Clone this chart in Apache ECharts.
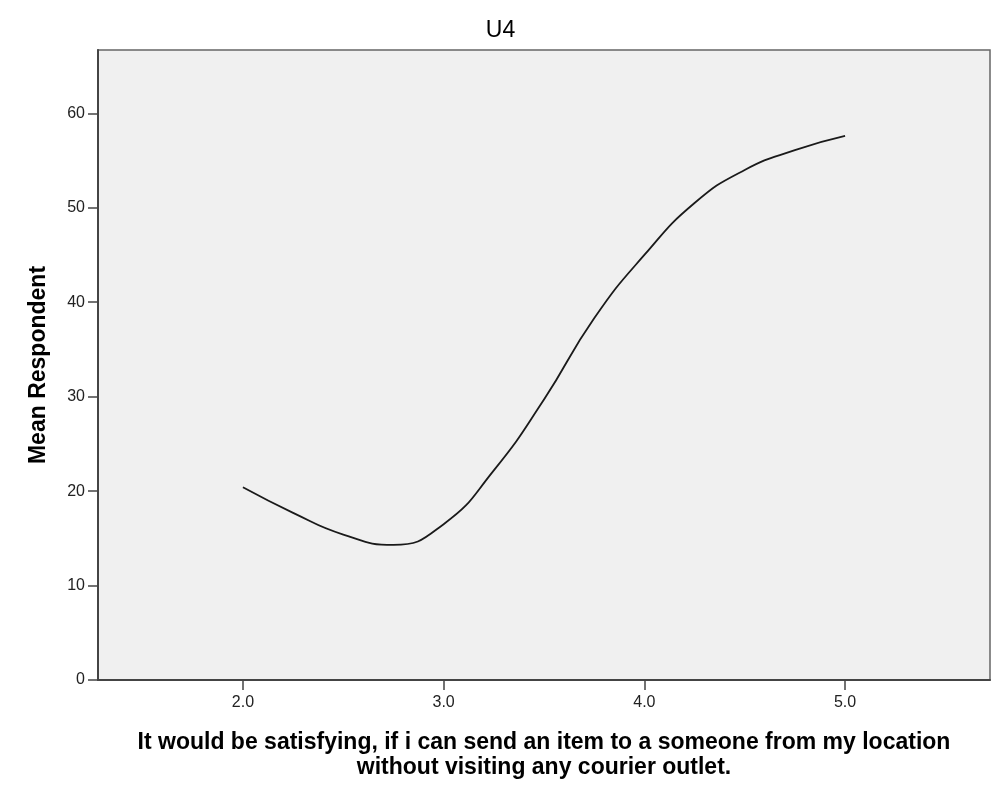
<!DOCTYPE html>
<html>
<head>
<meta charset="utf-8">
<title>U4</title>
<script src="https://cdn.jsdelivr.net/npm/echarts@6/dist/echarts.min.js"></script>
<style>
  html, body { margin: 0; padding: 0; background: #fff; }
  #main { width: 1001px; height: 790px; }
</style>
</head>
<body>
<div id="main"></div>
<script>
// values
var xValues = [2.0, 2.25, 2.5, 2.75, 3.0, 3.25, 3.5, 3.75, 4.0, 4.25, 4.5, 4.75, 5.0];
var meanValues = [20.4, 17.7, 15.4, 14.3, 16.5, 22.2, 29.7, 38.3, 45.0, 50.5, 54.0, 56.1, 57.6];
var xTicks = [2, 3, 4, 5];
var yTicks = [0, 10, 20, 30, 40, 50, 60];

var chart = echarts.init(document.getElementById('main'));

var points = [];
for (var i = 0; i < xValues.length; i++) {
    points.push([xValues[i], meanValues[i]]);
}

var option = {
    animation: false,
    textStyle: { fontFamily: 'Liberation Sans, Arial, sans-serif' },
    title: {
        text: 'U4',
        left: 'center',
        top: 14,
        textStyle: { fontSize: 23, fontWeight: 'normal', color: '#000' }
    },
    grid: {
        left: 98, right: 11, top: 50, bottom: 110,
        show: true,
        backgroundColor: '#f0f0f0',
        borderColor: '#666',
        borderWidth: 1.5
    },
    xAxis: {
        type: 'value',
        min: 1.278,
        max: 5.722,
        name: 'It would be satisfying, if i can send an item to a someone from my location\nwithout visiting any courier outlet.',
        nameLocation: 'middle',
        nameGap: 50,
        nameTextStyle: { fontSize: 23, fontWeight: 'bold', color: '#000', lineHeight: 25 },
        axisLine: { lineStyle: { color: '#444', width: 2 } },
        axisTick: { show: true, length: 10, customValues: xTicks, lineStyle: { color: '#444', width: 1.5 } },
        axisLabel: {
            customValues: xTicks,
            margin: 15,
            fontSize: 16,
            color: '#222',
            formatter: function (v) { return v.toFixed(1); }
        },
        splitLine: { show: false }
    },
    yAxis: {
        type: 'value',
        min: 0,
        max: 66.7,
        name: 'Mean Respondent',
        nameLocation: 'middle',
        nameGap: 48,
        nameTextStyle: { fontSize: 23, fontWeight: 'bold', color: '#000' },
        axisLine: { show: true, lineStyle: { color: '#444', width: 2 } },
        axisTick: { show: true, length: 10, customValues: yTicks, lineStyle: { color: '#444', width: 1.5 } },
        axisLabel: { customValues: yTicks, margin: 13, fontSize: 16, color: '#222' },
        splitLine: { show: false }
    },
    series: [{
        type: 'line',
        data: points,
        smooth: 0.5,
        showSymbol: false,
        lineStyle: { color: '#1a1a1a', width: 1.8 }
    }]
};

chart.setOption(option);
</script>
</body>
</html>
